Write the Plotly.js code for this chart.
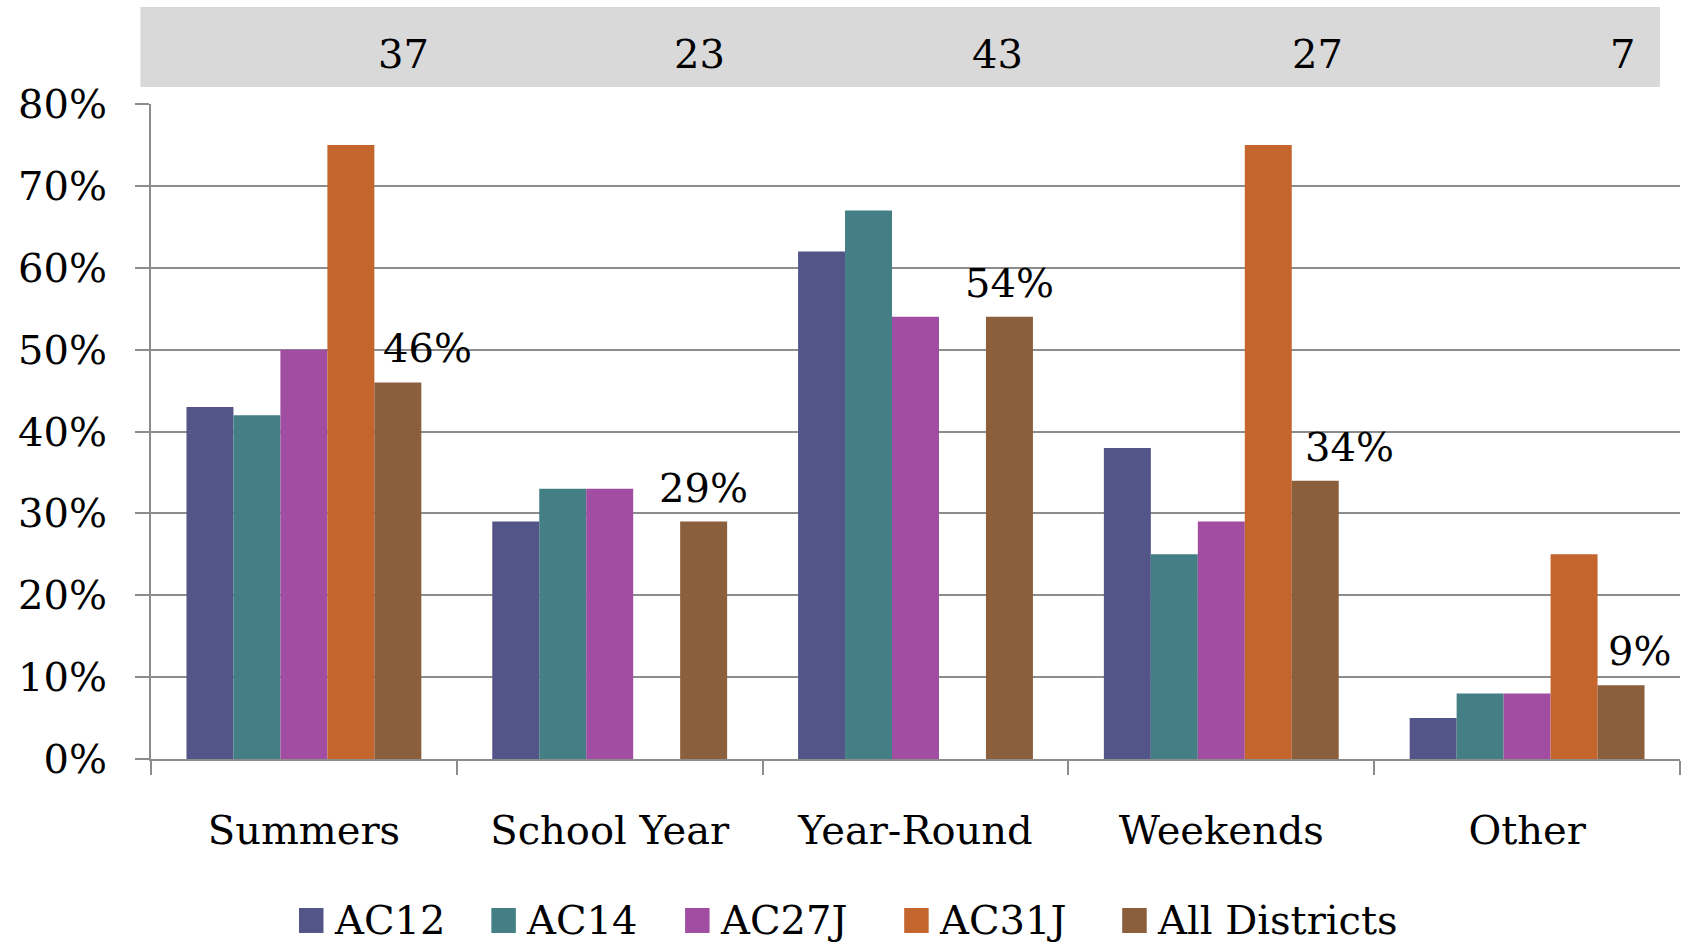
<!DOCTYPE html>
<html>
<head>
<meta charset="utf-8">
<script src="https://cdn.plot.ly/plotly-3.0.1.min.js"></script>
<style>html,body{margin:0;padding:0;background:#fff;}#chart{width:1689px;height:943px;}</style>
</head>
<body>
<div id="chart"></div>
<script>
const categories = ["Summers", "School Year", "Year-Round", "Weekends", "Other"];
const counts = [37, 23, 43, 27, 7];
const seriesNames = ["AC12", "AC14", "AC27J", "AC31J", "All Districts"];
const ac12 = [0.43, 0.29, 0.62, 0.38, 0.05];
const ac14 = [0.42, 0.33, 0.67, 0.25, 0.08];
const ac27j = [0.50, 0.33, 0.54, 0.29, 0.08];
const ac31j = [0.75, null, null, 0.75, 0.25];
const allDistricts = [0.46, 0.29, 0.54, 0.34, 0.09];
const yTickVals = [0, 0.1, 0.2, 0.3, 0.4, 0.5, 0.6, 0.7, 0.8];
const yTickText = ["0%", "10%", "20%", "30%", "40%", "50%", "60%", "70%", "80%"];

const colors = ["#535588", "#437F84", "#A14EA2", "#C4652E", "#8B5E3C"];
const seriesValues = [ac12, ac14, ac27j, ac31j, allDistricts];
const FONT = "DejaVu Serif, Georgia, serif";
const GRID = "#8C8C8C";

const traces = seriesValues.map((vals, i) => ({
  type: "bar",
  name: seriesNames[i],
  x: categories,
  y: vals,
  marker: {color: colors[i], line: {width: 0}},
  showlegend: false,
  hoverinfo: "skip"
}));

const annotations = [];
const shapes = [];

// gray band with counts
shapes.push({type: "rect", xref: "paper", yref: "paper", x0: -0.0069, x1: 0.9869, y0: 1.026, y1: 1.148,
  fillcolor: "#D9D9D9", line: {width: 0}, layer: "below"});
const countShift = [127.5, 117.5, 109, 123.5, 109.5];
counts.forEach((c, i) => {
  annotations.push({xref: "x", yref: "paper", x: categories[i], xshift: countShift[i], y: 1.076,
    xanchor: "right", yanchor: "middle",
    text: String(c), showarrow: false, font: {family: FONT, size: 40, color: "#000"}});
});

// data labels for All Districts
const labelShift = [30, 0, 0, 34, 18];
allDistricts.forEach((v, i) => {
  annotations.push({xref: "x", yref: "y", x: categories[i], y: v, xshift: 94 + labelShift[i], yshift: 9,
    xanchor: "center", yanchor: "bottom", text: Math.round(v * 100) + "%", showarrow: false,
    font: {family: FONT, size: 40, color: "#000"}});
});

// custom legend
const legendX = [0.0968, 0.2226, 0.3493, 0.4926, 0.6352];
const sq = 24.5 / 1529.5;
seriesNames.forEach((n, i) => {
  shapes.push({type: "rect", xref: "paper", yref: "paper", x0: legendX[i], x1: legendX[i] + sq,
    y0: -0.2656, y1: -0.2275, fillcolor: colors[i], line: {width: 0}});
  annotations.push({xref: "paper", yref: "paper", x: legendX[i], xshift: 33, y: -0.2458,
    xanchor: "left", yanchor: "middle", text: n, showarrow: false,
    font: {family: FONT, size: 40, color: "#000"}});
});

const layout = {
  width: 1689, height: 943,
  margin: {l: 150.5, r: 9, t: 104, b: 184, pad: 0},
  paper_bgcolor: "#fff", plot_bgcolor: "#fff",
  barmode: "group", bargap: 0.232, bargroupgap: 0,
  showlegend: false,
  hovermode: false,
  xaxis: {
    type: "category",
    showline: true, linecolor: GRID, linewidth: 2,
    ticks: "outside", tickson: "boundaries", ticklen: 14, tickcolor: GRID, tickwidth: 2,
    showgrid: false,
    tickfont: {family: FONT, size: 40, color: "#000"},
    ticklabelstandoff: 35
  },
  yaxis: {
    range: [0, 0.8],
    tickvals: yTickVals, ticktext: yTickText,
    showline: true, linecolor: GRID, linewidth: 2,
    ticks: "outside", ticklen: 14, tickcolor: GRID, tickwidth: 2,
    showgrid: true, gridcolor: GRID, gridwidth: 2,
    zeroline: false,
    tickfont: {family: FONT, size: 40, color: "#000"},
    ticklabelstandoff: 20
  },
  shapes: shapes,
  annotations: annotations
};

Plotly.newPlot("chart", traces, layout, {displayModeBar: false, staticPlot: true});
</script>
</body>
</html>
